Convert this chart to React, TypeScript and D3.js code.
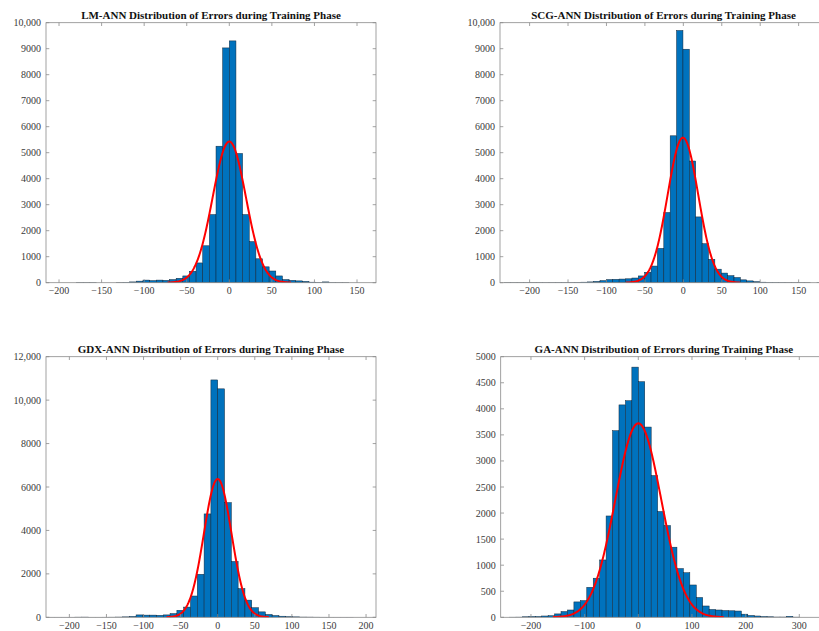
import React from "react";
import * as d3 from "d3";

// ---- Histogram data (counts per bin) ----
// LM-ANN: bins of width 7.8 starting at -210.6
const lmFirstEdge = -210.6;
const lmBinWidth = 7.8;
const lmCounts = [0, 0, 0, 0, 4, 4, 2, 0, 0, 0, 3, 10, 30, 60, 100, 80, 100, 90, 120, 170, 260, 440, 760, 1420, 2620, 5250, 9030, 9300, 4970, 2620, 1580, 920, 610, 450, 260, 120, 90, 70, 50, 20, 10, 30, 5, 2, 1, 0, 0, 0, 0];
const lmFit = { mu: 0, sigma: 19.5, peak: 5430 };

// SCG-ANN: bins of width 8.3 starting at -232.9
const scgFirstEdge = -232.9;
const scgBinWidth = 8.3;
const scgCounts = [1, 1, 1, 2, 3, 3, 2, 3, 5, 5, 5, 10, 20, 30, 50, 80, 120, 130, 140, 150, 180, 260, 400, 640, 1320, 2700, 5650, 9700, 8980, 4680, 2530, 1500, 900, 520, 370, 270, 200, 110, 70, 40, 20, 10, 8, 5, 3, 2, 1, 1, 0, 1];
const scgFit = { mu: -0.5, sigma: 19.9, peak: 5577 };

// GDX-ANN: bins of width 9.17 starting at -229.25
const gdxFirstEdge = -229.25;
const gdxBinWidth = 9.17;
const gdxCounts = [1, 1, 1, 1, 6, 8, 2, 2, 3, 5, 10, 20, 40, 110, 100, 100, 90, 110, 170, 320, 470, 980, 1980, 4760, 10930, 10520, 5280, 2570, 1320, 790, 440, 250, 130, 80, 50, 30, 20, 10, 8, 5, 3, 2, 1, 1, 1, 0, 0, 0];
const gdxFit = { mu: 0, sigma: 18.6, peak: 6368 };

// GA-ANN: bins of width 12 starting at -252
const gaFirstEdge = -252;
const gaBinWidth = 12;
const gaCounts = [0, 2, 3, 10, 15, 15, 25, 30, 65, 110, 140, 295, 320, 575, 750, 1100, 1944, 3580, 4075, 4155, 4800, 4520, 3650, 2720, 2030, 1760, 1345, 935, 855, 620, 380, 217, 150, 140, 130, 125, 120, 60, 35, 25, 15, 10, 5, 5, 20, 3];
const gaFit = { mu: 0, sigma: 42.8, peak: 3721 };

// ---- Axis ticks ----
const xTicksA = [-200, -150, -100, -50, 0, 50, 100, 150];
const xTicksB = [-200, -150, -100, -50, 0, 50, 100, 150, 200];
const xTicksC = [-200, -100, 0, 100, 200, 300];
const yTicks10k = [0, 1000, 2000, 3000, 4000, 5000, 6000, 7000, 8000, 9000, 10000];
const yTicks12k = [0, 2000, 4000, 6000, 8000, 10000, 12000];
const yTicks5k = [0, 500, 1000, 1500, 2000, 2500, 3000, 3500, 4000, 4500, 5000];

const titles = [
  "LM-ANN Distribution of Errors during Training Phase",
  "SCG-ANN Distribution of Errors during Training Phase",
  "GDX-ANN Distribution of Errors during Training Phase",
  "GA-ANN Distribution of Errors during Training Phase",
];

const BAR = "#0072BD";
const FIT = "#ff0000";
const AXIS = "#8a8a8a";
const LABEL = "#3a3a3a";
const SERIF = "'Liberation Serif', 'Times New Roman', serif";

const fmtTick = (v: number) => {
  const s = v >= 10000 ? d3.format(",")(v) : String(Math.abs(v));
  return v < 0 ? "\u2212" + s : s;
};

type PanelProps = {
  title: string;
  box: { left: number; right: number; top: number; bottom: number };
  xDomain: [number, number];
  yMax: number;
  xTicks: number[];
  yTicks: number[];
  firstEdge: number;
  binWidth: number;
  counts: number[];
  fit: { mu: number; sigma: number; peak: number };
};

function Panel(p: PanelProps) {
  const { box } = p;
  const x = d3.scaleLinear().domain(p.xDomain).range([box.left, box.right]);
  const y = d3.scaleLinear().domain([0, p.yMax]).range([box.bottom, box.top]);
  const tl = 3.3;

  const bins = p.counts.map((c, i) => ({
    x0: p.firstEdge + i * p.binWidth,
    x1: p.firstEdge + (i + 1) * p.binWidth,
    c,
  }));

  // normal fit curve over mu ± 3.719 sigma
  const lo = p.fit.mu - 3.719 * p.fit.sigma;
  const hi = p.fit.mu + 3.719 * p.fit.sigma;
  const pts = d3.range(0, 201).map((i) => {
    const v = lo + ((hi - lo) * i) / 200;
    const z = (v - p.fit.mu) / p.fit.sigma;
    return [v, p.fit.peak * Math.exp(-0.5 * z * z)] as [number, number];
  });
  const line = d3
    .line<[number, number]>()
    .x((d) => x(d[0]))
    .y((d) => y(d[1]));

  const cx = (box.left + box.right) / 2;
  const clipId = "clip-" + p.title.split("-")[0];

  return (
    <g>
      <defs>
        <clipPath id={clipId}>
          <rect x={box.left} y={box.top} width={box.right - box.left} height={box.bottom - box.top} />
        </clipPath>
      </defs>
      <g clipPath={`url(#${clipId})`}>
        {bins.map((b, i) =>
          b.c > 0 ? (
            <rect
              key={i}
              x={x(b.x0)}
              y={y(b.c)}
              width={x(b.x1) - x(b.x0)}
              height={y(0) - y(b.c)}
              fill={BAR}
              stroke="#10263a"
              strokeWidth={0.5}
            />
          ) : null
        )}
        <path d={line(pts) || ""} fill="none" stroke={FIT} strokeWidth={2} />
      </g>
      {/* axes box */}
      <rect
        x={box.left}
        y={box.top}
        width={box.right - box.left}
        height={box.bottom - box.top}
        fill="none"
        stroke={AXIS}
        strokeWidth={0.8}
      />
      {p.xTicks.map((t) => (
        <g key={"x" + t}>
          <line x1={x(t)} x2={x(t)} y1={box.bottom} y2={box.bottom - tl} stroke={AXIS} strokeWidth={0.8} />
          <line x1={x(t)} x2={x(t)} y1={box.top} y2={box.top + tl} stroke={AXIS} strokeWidth={0.8} />
          <text
            x={x(t)}
            y={box.bottom + 11.3}
            textAnchor="middle"
            fontFamily={SERIF}
            fontSize={10}
            fill={LABEL}
          >
            {fmtTick(t)}
          </text>
        </g>
      ))}
      {p.yTicks.map((t) => (
        <g key={"y" + t}>
          <line x1={box.left} x2={box.left + tl} y1={y(t)} y2={y(t)} stroke={AXIS} strokeWidth={0.8} />
          <line x1={box.right} x2={box.right - tl} y1={y(t)} y2={y(t)} stroke={AXIS} strokeWidth={0.8} />
          <text
            x={box.left - 5}
            y={y(t)}
            dy="0.35em"
            textAnchor="end"
            fontFamily={SERIF}
            fontSize={10}
            fill={LABEL}
          >
            {fmtTick(t)}
          </text>
        </g>
      ))}
      <text
        x={cx}
        y={box.top - 3.5}
        textAnchor="middle"
        fontFamily={SERIF}
        fontWeight="bold"
        fontSize={11}
        fill="#111"
      >
        {p.title}
      </text>
    </g>
  );
}

export default function App() {
  return (
    <svg
      width={819}
      height={631}
      viewBox="0 0 819 631"
      style={{ position: "absolute", left: 0, top: 0, display: "block", background: "#fff" }}
    >
      <rect x={0} y={0} width={819} height={631} fill="#fff" />
      <Panel
        title={titles[0]}
        box={{ left: 46, right: 376, top: 22.7, bottom: 282.7 }}
        xDomain={[-215.3, 172.3]}
        yMax={10000}
        xTicks={xTicksA}
        yTicks={yTicks10k}
        firstEdge={lmFirstEdge}
        binWidth={lmBinWidth}
        counts={lmCounts}
        fit={lmFit}
      />
      <Panel
        title={titles[1]}
        box={{ left: 500, right: 827, top: 22.7, bottom: 282.7 }}
        xDomain={[-238.5, 186.9]}
        yMax={10000}
        xTicks={xTicksA}
        yTicks={yTicks10k}
        firstEdge={scgFirstEdge}
        binWidth={scgBinWidth}
        counts={scgCounts}
        fit={scgFit}
      />
      <Panel
        title={titles[2]}
        box={{ left: 46, right: 376, top: 356.7, bottom: 617.3 }}
        xDomain={[-231.5, 213.4]}
        yMax={12000}
        xTicks={xTicksB}
        yTicks={yTicks12k}
        firstEdge={gdxFirstEdge}
        binWidth={gdxBinWidth}
        counts={gdxCounts}
        fit={gdxFit}
      />
      <Panel
        title={titles[3]}
        box={{ left: 500.7, right: 827, top: 356.7, bottom: 617.3 }}
        xDomain={[-256.4, 351.6]}
        yMax={5000}
        xTicks={xTicksC}
        yTicks={yTicks5k}
        firstEdge={gaFirstEdge}
        binWidth={gaBinWidth}
        counts={gaCounts}
        fit={gaFit}
      />
    </svg>
  );
}
